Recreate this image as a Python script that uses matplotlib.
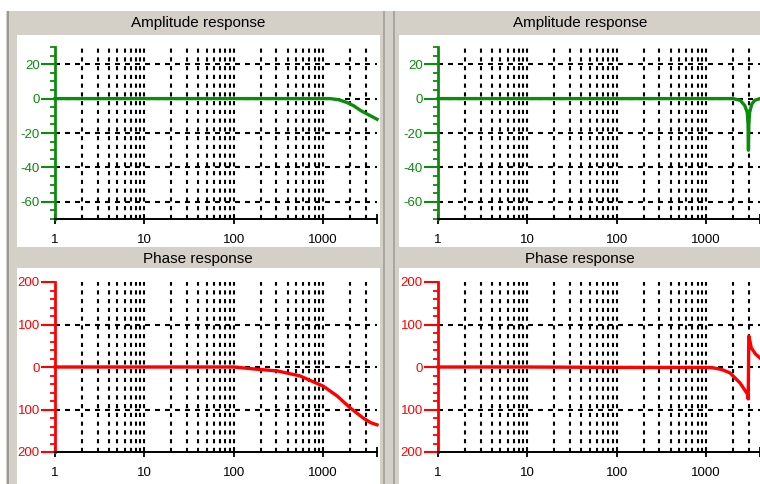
import matplotlib.pyplot as plt
from matplotlib.patches import Rectangle
from matplotlib.ticker import FixedLocator, FixedFormatter, MultipleLocator, NullFormatter

plt.rcParams['font.family'] = ['Liberation Sans', 'DejaVu Sans']
plt.rcParams['lines.scale_dashes'] = False

# frequency (Hz) / response values
amp_left_f = [1, 10, 100, 1000, 1200, 1500, 1850, 2200, 2600, 3000, 3500, 4000]
amp_left_db = [0, 0, 0, 0, 0, -0.7, -2.3, -4.2, -6.8, -8.6, -10.4, -12]

amp_right_f = [1, 10, 100, 1000, 2000, 2400, 2700, 2880, 2940, 2970, 3000, 3060, 3250, 3500, 4000]
amp_right_db = [0, 0, 0, 0, 0, -1, -4, -8, -15, -30, -15, -8, -3, -1, 0]

ph_left_f = [1, 10, 100, 170, 310, 550, 1000, 1430, 2000, 2800, 3400, 4000]
ph_left_deg = [0, 0, 0, -4.7, -9.4, -21, -45, -68, -96, -120, -131, -136]

ph_right_f = [1, 10, 100, 1000, 1200, 1500, 1850, 2400, 2900, 2950, 3000, 3200, 3550, 4000]
ph_right_deg = [0, 0, -1, -1, -2, -6, -14, -38, -64, -75, 73, 45, 31, 21]

amp_ticks = [20, 0, -20, -40, -60]
amp_labels = ['20', '0', '-20', '-40', '-60']
amp_grid = [20, 0, -20, -40, -60]
ph_ticks = [200, 100, 0, -100, -200]
ph_labels = ['200', '100', '0', '100', '200']   # minus signs are clipped in the original
ph_grid = [100, 0, -100]

x_ticks = [1, 10, 100, 1000, 4000]
x_labels = ['1', '10', '100', '1000', '']
x_grid = [m * 10 ** d for d in range(4) for m in range(2, 11) if m * 10 ** d < 4000]

W, H = 760, 484
GRAY = '#d4d0c8'
GREEN = '#0b8c0b'
RED = '#ff0000'

fig = plt.figure(figsize=(W / 100, H / 100), dpi=100, facecolor=GRAY)


def rect(x0, y0, x1, y1):
    return [x0 / W, 1 - y1 / H, (x1 - x0) / W, (y1 - y0) / H]


def box(x0, y0, x1, y1, color):
    fig.add_artist(Rectangle((x0 / W, 1 - y1 / H), (x1 - x0) / W, (y1 - y0) / H,
                             transform=fig.transFigure, facecolor=color,
                             edgecolor='none', zorder=-5))


# window frame
box(0, 0, W, 11, 'white')
box(0, 0, 6, H, 'white')
box(7, 11, 9, H, '#9c9a96')
box(383, 11, 385, H, '#a8a6a2')
box(393, 11, 395, H, '#a8a6a2')
# white plot panels
box(17, 35, 380, 247, 'white')
box(17, 268, 380, H, 'white')
box(399, 35, W, 247, 'white')
box(399, 268, W, H, 'white')

fig.text(198 / W, 1 - 23 / H, 'Amplitude response', ha='center', va='center', fontsize=11)
fig.text(580 / W, 1 - 23 / H, 'Amplitude response', ha='center', va='center', fontsize=11)
fig.text(198 / W, 1 - 259 / H, 'Phase response', ha='center', va='center', fontsize=11)
fig.text(580 / W, 1 - 259 / H, 'Phase response', ha='center', va='center', fontsize=11)


def panel(pos, f, v, col, ylim, yticks, ylabels, ygrid, yminor):
    ax = fig.add_axes(pos)
    ax.set_facecolor('none')
    ax.set_xscale('log')
    ax.set_xlim(1, 4000)
    ax.set_ylim(*ylim)
    for xv in x_grid:
        ax.axvline(xv, color='black', lw=1.5, dashes=(3, 3.3), zorder=1)
    for yv in ygrid:
        ax.axhline(yv, color='black', lw=1.5, dashes=(3.6, 3.6), zorder=1)
    ax.plot(f, v, color=col, lw=2.4, zorder=3, clip_on=False)

    ax.xaxis.set_major_locator(FixedLocator(x_ticks))
    ax.xaxis.set_major_formatter(FixedFormatter(x_labels))
    ax.xaxis.set_minor_locator(FixedLocator(x_grid))
    ax.xaxis.set_minor_formatter(NullFormatter())
    ax.yaxis.set_major_locator(FixedLocator(yticks))
    ax.yaxis.set_major_formatter(FixedFormatter(ylabels))
    ax.yaxis.set_minor_locator(MultipleLocator(yminor))

    ax.tick_params(axis='y', which='major', direction='out', length=10, width=1.5,
                   colors=col, labelsize=9.5, pad=1)
    ax.tick_params(axis='y', which='minor', direction='out', length=3.8, width=1.3, color=col)
    ax.tick_params(axis='x', which='major', direction='inout', length=7, width=1.3,
                   labelsize=9.5, pad=7)
    ax.tick_params(axis='x', which='minor', direction='in', length=3, width=1.2)

    ax.spines['top'].set_visible(False)
    ax.spines['right'].set_visible(False)
    ax.spines['left'].set_color(col)
    ax.spines['left'].set_linewidth(2)
    ax.spines['bottom'].set_linewidth(1.4)
    return ax


panel(rect(55, 47, 377, 219), amp_left_f, amp_left_db, GREEN, (-70, 30),
      amp_ticks, amp_labels, amp_grid, 5)
panel(rect(438, 47, 760, 219), amp_right_f, amp_right_db, GREEN, (-70, 30),
      amp_ticks, amp_labels, amp_grid, 5)
panel(rect(55, 282, 377, 452), ph_left_f, ph_left_deg, RED, (-200, 200),
      ph_ticks, ph_labels, ph_grid, 20)
panel(rect(438, 282, 760, 452), ph_right_f, ph_right_deg, RED, (-200, 200),
      ph_ticks, ph_labels, ph_grid, 20)

fig.savefig('out.png', dpi=100, facecolor=GRAY)
